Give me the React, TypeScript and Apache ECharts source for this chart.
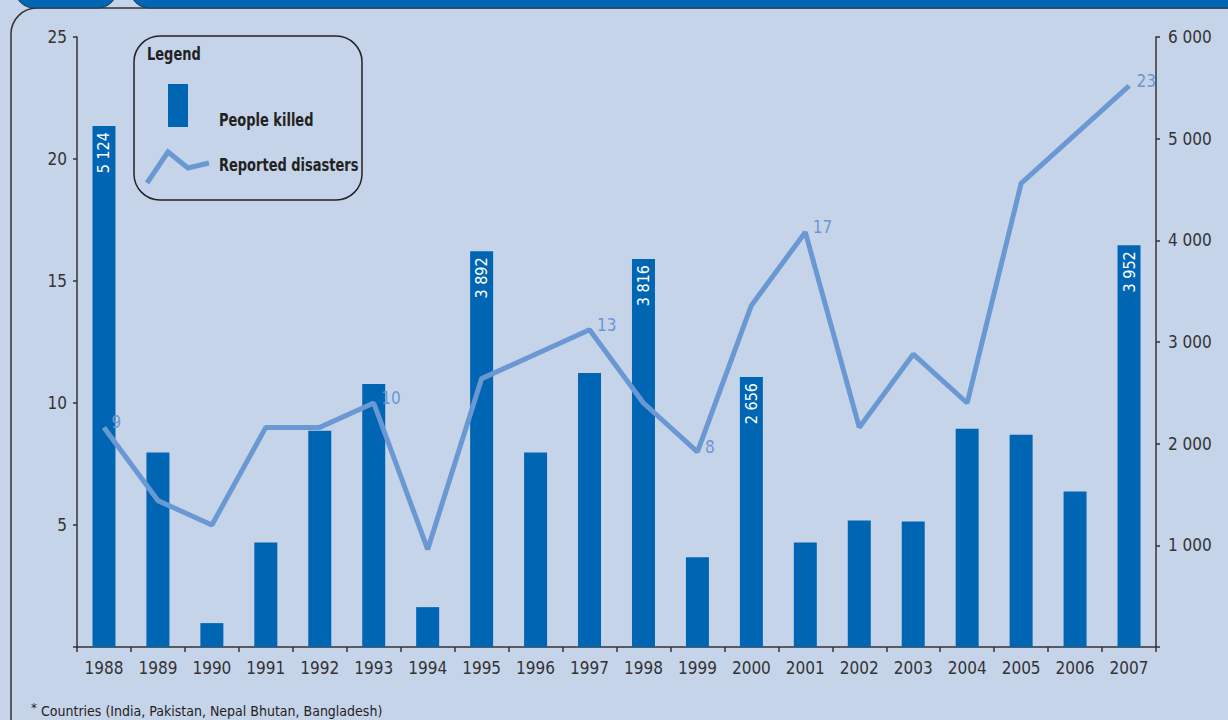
import React, { useEffect, useRef } from "react";
import * as echarts from "echarts";

const years = ["1988","1989","1990","1991","1992","1993","1994","1995","1996","1997","1998","1999","2000","2001","2002","2003","2004","2005","2006","2007"];
const peopleKilled = [5124, 1912, 235, 1029, 2127, 2588, 392, 3892, 1912, 2696, 3816, 882, 2656, 1029, 1245, 1235, 2147, 2088, 1529, 3952];
const killedLabelYears = ["1988", "1995", "1998", "2000", "2007"];
const reportedDisasters = [9, 6, 5, 9, 9, 10, 4, 11, 12, 13, 10, 8, 14, 17, 9, 12, 10, 19, 21, 23];
const disasterLabelYears = ["1988", "1993", "1997", "1999", "2001", "2007"];
const leftTicks = [0, 5, 10, 15, 20, 25];
const rightTicks = [0, 1000, 2000, 3000, 4000, 5000, 6000];

const FONT = "'Liberation Sans Narrow', 'DejaVu Sans Condensed', 'Roboto Condensed', sans-serif";
const BG = "#c6d4ea";
const BAR = "#0066b3";
const LINE = "#6a98d3";
const TXT = "#333333";

const fmt = (v: number) => {
  const s = String(Math.round(v));
  return s.length > 3 ? s.slice(0, s.length - 3) + " " + s.slice(s.length - 3) : s;
};

export default function App() {
  const ref = useRef<HTMLDivElement>(null);
  useEffect(() => {
    if (!ref.current) return;
    const chart = echarts.init(ref.current, undefined, { renderer: "svg" });
    chart.setOption({
      animation: false,
      backgroundColor: BG,
      textStyle: { fontFamily: FONT },
      grid: { left: 77, right: 72, top: 37, bottom: 73 },
      xAxis: {
        type: "category",
        data: years,
        boundaryGap: true,
        axisLine: { lineStyle: { color: TXT, width: 1.5 } },
        axisTick: { show: true, length: 5, lineStyle: { color: TXT, width: 1.5 } },
        axisLabel: { color: TXT, fontSize: 17, margin: 12, fontFamily: FONT },
      },
      yAxis: [
        {
          type: "value",
          min: leftTicks[0],
          max: leftTicks[leftTicks.length - 1],
          interval: 5,
          position: "left",
          axisLine: { show: true, lineStyle: { color: TXT, width: 1.5 } },
          axisTick: { show: true, length: 4, lineStyle: { color: TXT, width: 1.5 } },
          axisLabel: {
            color: TXT, fontSize: 17, margin: 10, fontFamily: FONT,
            formatter: (v: number) => (v === 0 ? "" : String(v)),
          },
          splitLine: { show: false },
        },
        {
          type: "value",
          min: rightTicks[0],
          max: rightTicks[rightTicks.length - 1],
          interval: 1000,
          position: "right",
          axisLine: { show: true, lineStyle: { color: TXT, width: 1.5 } },
          axisTick: { show: true, length: 4, lineStyle: { color: TXT, width: 1.5 } },
          axisLabel: {
            color: TXT, fontSize: 17, margin: 12, fontFamily: FONT,
            formatter: (v: number) => (v === 0 ? "" : fmt(v)),
          },
          splitLine: { show: false },
        },
      ],
      series: [
        {
          name: "People killed",
          type: "bar",
          yAxisIndex: 1,
          barWidth: 23,
          itemStyle: { color: BAR },
          data: peopleKilled.map((v, i) => ({
            value: v,
            label: {
              show: killedLabelYears.includes(years[i]),
              position: "insideTop",
              rotate: 90,
              align: "right",
              verticalAlign: "middle",
              distance: 6,
              color: "#ffffff",
              fontSize: 16,
              fontFamily: FONT,
              formatter: (p: any) => fmt(p.value),
            },
          })),
        },
        {
          name: "Reported disasters",
          type: "line",
          yAxisIndex: 0,
          symbol: "circle",
          symbolSize: 1,
          showSymbol: true,
          showAllSymbol: true,
          lineStyle: { color: LINE, width: 5 },
          itemStyle: { color: LINE },
          label: {
            show: true,
            position: "right",
            distance: 7,
            offset: [0, -5],
            color: LINE,
            fontSize: 17,
            fontFamily: FONT,
            formatter: (p: any) => (disasterLabelYears.includes(years[p.dataIndex]) ? String(p.value) : ""),
          },
          data: reportedDisasters,
        },
      ],
      graphic: [
        { type: "rect", shape: { x: 15, y: -30, width: 102, height: 38, r: 20 }, style: { fill: BAR, stroke: "#1a3a5c", lineWidth: 1 }, silent: true },
        { type: "rect", shape: { x: 130, y: -30, width: 1120, height: 38, r: 20 }, style: { fill: BAR, stroke: "#1a3a5c", lineWidth: 1 }, silent: true },
        { type: "rect", shape: { x: 11, y: 8, width: 1260, height: 740, r: 26 }, style: { fill: "none", stroke: "#333333", lineWidth: 1.5 }, silent: true, z: -1 },
        { type: "rect", shape: { x: 134, y: 36, width: 228, height: 164, r: 26 }, style: { fill: BG, stroke: "#222222", lineWidth: 1.5 }, z: 10 },
        { type: "text", x: 147, y: 46, scaleX: 0.85, style: { text: "Legend", fill: "#222", font: `bold 17px ${FONT}` }, z: 11 },
        { type: "rect", shape: { x: 168, y: 84, width: 20, height: 43 }, style: { fill: BAR }, z: 11 },
        { type: "text", x: 219, y: 112, scaleX: 0.85, style: { text: "People killed", fill: "#222", font: `bold 17px ${FONT}` }, z: 11 },
        { type: "polyline", shape: { points: [[147, 183], [168, 152], [188, 168], [209, 163]] }, style: { stroke: LINE, lineWidth: 5, fill: "none" }, z: 11 },
        { type: "text", x: 219, y: 157, scaleX: 0.85, style: { text: "Reported disasters", fill: "#222", font: `bold 17px ${FONT}` }, z: 11 },
        { type: "text", x: 31, y: 701, style: { text: "*", fill: "#222", font: `13px ${FONT}` } },
        { type: "text", x: 41, y: 704, style: { text: "Countries (India, Pakistan, Nepal Bhutan, Bangladesh)", fill: "#222", font: `14px ${FONT}` } },
      ],
    });
    return () => chart.dispose();
  }, []);
  return <div ref={ref} style={{ width: 1228, height: 720, position: "absolute", left: 0, top: 0 }} />;
}
